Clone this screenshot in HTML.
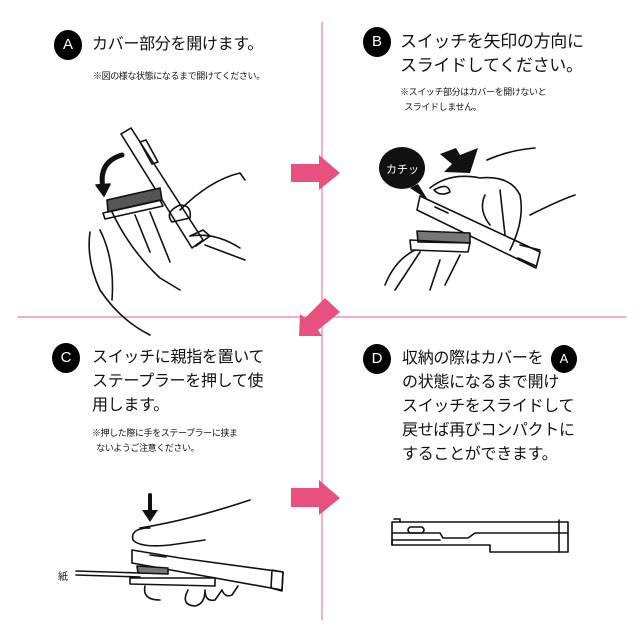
<!DOCTYPE html>
<html><head><meta charset="utf-8"><style>
html,body{margin:0;padding:0;background:#fff}
body{width:640px;height:640px;position:relative;overflow:hidden;font-family:"Liberation Sans","Noto Sans CJK JP",sans-serif;color:#111}
.t{position:absolute;font-size:16px;line-height:24px;white-space:nowrap;letter-spacing:-0.3px}
.n{position:absolute;font-size:9px;line-height:15px;white-space:nowrap;letter-spacing:-0.4px}
.c{position:absolute;width:28px;height:30px;border-radius:50%;background:#000;color:#fff;font-size:15px;line-height:30px;text-align:center}
</style></head><body>
<svg width="640" height="640" style="position:absolute;left:0;top:0" fill="none" stroke="#111" stroke-width="1.6" stroke-linejoin="round" stroke-linecap="round">
<line x1="322" y1="22" x2="322" y2="620" stroke="#ee7ba0" stroke-width="1.2"/>
<line x1="18" y1="317" x2="626" y2="317" stroke="#ee7ba0" stroke-width="1.2"/>
<!-- pink arrows -->
<polygon points="291,164 319,164 319,155 340,173 319,190 319,182 291,182" fill="#e8517f" stroke="none"/>
<polygon points="291,488 319,488 319,480 340,498 319,515 319,507 291,507" fill="#e8517f" stroke="none"/>
<polygon points="325,298 340,312 318,330 322,336 299,336 300,314 305,318" fill="#e8517f" stroke="none"/>
<!-- Panel A illustration -->
<g>
<path d="M121,134 L131,128 L203,240 L192,248 Z"/>
<path d="M140,142 L146,140 L158,162 L152,164 Z"/>
<path d="M190,236 L203,230 L210,236 L196,246"/>
<path d="M107,200 L160,188 L162,200 L108,212 Z" fill="#555"/>
<path d="M103,213 L160,200 L163,206 L105,219 Z"/>
<path d="M122,155 Q98,162 103,188" stroke-width="5"/>
<polygon points="96,185 110,184 104,196" fill="#111"/>
<path d="M90,232 Q86,260 100,290 Q120,320 150,335"/>
<path d="M100,230 Q115,260 112,300"/>
<path d="M112,212 Q130,250 160,278 L180,290"/>
<path d="M135,215 L150,252 M150,212 L170,262"/>
<path d="M180,210 Q210,180 240,173 L245,180"/>
<path d="M190,236 Q215,232 240,248"/>
<path d="M172,222 Q164,212 180,205 Q192,205 190,218 Z"/>
<path d="M205,245 L245,260"/>
</g>
<!-- Panel B illustration -->
<g>
<ellipse cx="402" cy="168" rx="23" ry="21" fill="#111" stroke="none"/>
<polygon points="418,184 428,200 410,188" fill="#111" stroke="none"/>
<polygon points="440,154 456,148 460,155 478,148 470,173 444,172 452,164" fill="#111" stroke="none"/>
<path d="M420,196 L540,252 L536,268 L417,210 Z"/>
<path d="M435,207 L448,213"/>
<path d="M520,245 L540,250 M518,258 L536,266"/>
<path d="M417,231 L470,233 L470,243 L418,242 Z" fill="#777"/>
<path d="M410,240 L470,243 L468,252 L411,250 Z"/>
<path d="M385,285 Q395,260 415,250 M395,290 L420,252 M430,290 L440,260 M445,285 L460,255"/>
<path d="M430,188 Q450,172 480,178 Q510,175 520,195 Q525,220 510,250"/>
<path d="M485,195 Q478,210 490,225 M500,190 L505,235"/>
<path d="M487,160 Q510,150 535,148"/>
<path d="M530,215 Q560,200 575,195"/>
<path d="M434,190 Q448,182 450,192 Q440,197 434,190"/>
</g>
<!-- Panel C illustration -->
<g>
<path d="M150,495 L150,512" stroke-width="4"/>
<polygon points="142,510 158,510 150,522" fill="#111" stroke="none"/>
<path d="M150,528 Q130,528 133,540 Q140,548 170,545 L205,540 M140,528 Q190,520 250,500"/>
<path d="M132,550 L180,558 L283,572 L282,590 L132,563 Z"/>
<path d="M272,570 L283,572 L282,591 L271,588 Z"/>
<path d="M150,555 L166,557"/>
<path d="M137,566 L168,568 L168,574 L138,573 Z" fill="#777"/>
<path d="M76,571 L140,573 M76,575 L140,577"/>
<path d="M130,578 L215,578 L215,586 L130,584 Z"/>
<path d="M145,586 Q142,600 160,600 M188,590 Q180,605 195,606 Q205,604 205,590 M205,590 Q205,602 215,600 L222,590 M222,590 Q225,598 232,595 L238,586"/>
</g>
<!-- Panel D illustration -->
<g>
<path d="M392,522 L568,522 L568,552 L490,552 L490,545 L392,545 Z"/>
<path d="M392,533 L440,533 L443,538 L468,538 L475,533 L568,533"/>
<path d="M392,545 L392,540 L440,540"/>
<path d="M410,527 L422,527 Q426,530 422,533 L410,533 Q406,530 410,527 Z"/>
<path d="M559,520 L559,552 M394,519 L400,519 L400,522"/>
</g>
</svg>
<div class="c" style="left:54px;top:30px">A</div>
<div class="t" style="left:92px;top:33px">カバー部分を開けます。</div>
<div class="n" style="left:93px;top:69px">※図の様な状態になるまで開けてください。</div>
<div class="c" style="left:363px;top:27px">B</div>
<div class="t" style="left:400px;top:30px;font-size:17px">スイッチを矢印の方向に<br>スライドしてください。</div>
<div class="n" style="left:400px;top:85px">※スイッチ部分はカバーを開けないと<br>&nbsp;&nbsp;スライドしません。</div>
<div style="position:absolute;left:386px;top:161px;color:#fff;font-size:11px">カチッ</div>
<div class="c" style="left:52px;top:343px">C</div>
<div class="t" style="left:92px;top:346px">スイッチに親指を置いて<br>ステープラーを押して使<br>用します。</div>
<div class="n" style="left:92px;top:426px">※押した際に手をステープラーに挟ま<br>&nbsp;&nbsp;ないようご注意ください。</div>
<div class="c" style="left:363px;top:344px">D</div>
<div class="t" style="left:402px;top:347px">収納の際はカバーを<br>の状態になるまで開け<br>スイッチをスライドして<br>戻せば再びコンパクトに<br>することができます。</div>
<div class="c" style="left:551px;top:345px;width:26px;height:28px;line-height:28px;font-size:13px">A</div>
<div style="position:absolute;left:58px;top:568px;font-size:10px">紙</div>
</body></html>
